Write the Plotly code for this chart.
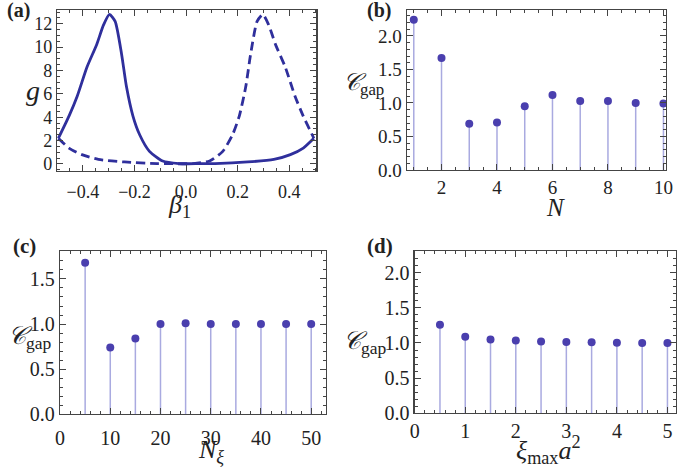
import plotly.graph_objects as go

# ---------------- data ----------------
# (a) g vs beta1
beta_solid = [-0.495, -0.453, -0.422, -0.384, -0.346, -0.32, -0.297, -0.275, -0.25, -0.231,
              -0.206, -0.18, -0.142, -0.091, -0.028, 0.05, 0.112, 0.239, 0.34, 0.404, 0.454, 0.495]
g_solid = [2.2, 4.14, 5.8, 8.3, 10.25, 11.9, 12.8, 12.2, 9.4, 6.6,
           4.1, 2.5, 1.08, 0.25, 0.03, 0.02, 0.03, 0.17, 0.39, 0.8, 1.36, 2.2]
beta_dash = [-0.495, -0.454, -0.404, -0.34, -0.239, -0.112, -0.05, 0.028, 0.091, 0.142,
             0.18, 0.206, 0.231, 0.25, 0.275, 0.297, 0.32, 0.346, 0.384, 0.422, 0.453, 0.495]
g_dash = [2.2, 1.36, 0.8, 0.39, 0.17, 0.03, 0.02, 0.03, 0.25, 1.08,
          2.5, 4.1, 6.6, 9.4, 12.2, 12.8, 11.9, 10.25, 8.3, 5.8, 4.14, 2.2]

# (b) C_gap vs N
N_vals = [1, 2, 3, 4, 5, 6, 7, 8, 9, 10]
C_N = [2.24, 1.67, 0.69, 0.71, 0.95, 1.12, 1.03, 1.03, 1.0, 0.99]

# (c) C_gap vs N_xi
Nxi_vals = [5, 10, 15, 20, 25, 30, 35, 40, 45, 50]
C_Nxi = [1.68, 0.74, 0.84, 1.0, 1.01, 1.0, 1.0, 1.0, 1.0, 1.0]

# (d) C_gap vs xi_max a^2
xi_vals = [0.5, 1.0, 1.5, 2.0, 2.5, 3.0, 3.5, 4.0, 4.5, 5.0]
C_xi = [1.26, 1.09, 1.05, 1.035, 1.02, 1.015, 1.01, 1.005, 1.0, 1.0]

LINE = "#2f2f9c"
DOT = "#4a3fae"
STEM = "#a9aae0"
FONT = "Liberation Serif"

fig = go.Figure()

fig.add_trace(go.Scatter(x=beta_solid, y=g_solid, mode="lines", line=dict(color=LINE, width=2.8, shape="spline", smoothing=0.6),
                         xaxis="x", yaxis="y", showlegend=False))
fig.add_trace(go.Scatter(x=beta_dash, y=g_dash, mode="lines", line=dict(color=LINE, width=2.8, dash="9px,5px", shape="spline", smoothing=0.6),
                         xaxis="x", yaxis="y", showlegend=False))


def stems(xs, ys, xa, ya):
    sx, sy = [], []
    for xv, yv in zip(xs, ys):
        sx += [xv, xv, None]
        sy += [0, yv, None]
    fig.add_trace(go.Scatter(x=sx, y=sy, mode="lines", line=dict(color=STEM, width=1.5),
                             xaxis=xa, yaxis=ya, showlegend=False))
    fig.add_trace(go.Scatter(x=xs, y=ys, mode="markers", marker=dict(color=DOT, size=8),
                             xaxis=xa, yaxis=ya, showlegend=False))


stems(N_vals, C_N, "x2", "y2")
stems(Nxi_vals, C_Nxi, "x3", "y3")
stems(xi_vals, C_xi, "x4", "y4")

W, H = 685, 474


def dom(x0, x1, y0, y1):
    return [x0 / W, x1 / W], [1 - y1 / H, 1 - y0 / H]


def ax(domain, rng, dtick, mdtick, tick0=0, fmt=None, anchor=None, fs=18, standoff=None):
    d = dict(domain=domain, range=rng, dtick=dtick, tick0=tick0, ticks="inside", ticklen=6,
             tickcolor="#444", tickwidth=1, showline=True, linecolor="#444", linewidth=1.2,
             mirror="allticks", showgrid=False, zeroline=False, anchor=anchor,
             tickfont=dict(family=FONT, size=fs, color="#222"),
             minor=dict(ticks="inside", ticklen=3, dtick=mdtick, tick0=tick0, tickcolor="#444", showgrid=False))
    if fmt:
        d["tickformat"] = fmt
    if standoff is not None:
        d["ticklabelstandoff"] = standoff
    return d


xa, ya = dom(53, 317, 10, 175)
xb, yb = dom(409, 673, 10, 174)
xc, yc = dom(56, 327, 257, 424)
xd, yd = dom(417, 683, 257, 423)

fig.update_layout(
    width=W, height=H, margin=dict(l=0, r=0, t=0, b=0),
    paper_bgcolor="white", plot_bgcolor="white",
    font=dict(family=FONT),
    hovermode=False,
    xaxis=ax(xa, [-0.5, 0.505], 0.2, 0.05, tick0=-0.4, fmt=".1f", anchor="y", fs=18, standoff=4),
    yaxis=ax(ya, [-0.6, 13.2], 2, 0.5, anchor="x", fs=18),
    xaxis2=ax(xb, [0.75, 10.1], 2, 0.5, anchor="y2", fs=19),
    yaxis2=ax(yb, [0, 2.39], 0.5, 0.1, fmt=".1f", anchor="x2", fs=19),
    xaxis3=ax(xc, [0, 53], 10, 2, anchor="y3", fs=20, standoff=6),
    yaxis3=ax(yc, [0, 1.81], 0.5, 0.1, fmt=".1f", anchor="x3", fs=20),
    xaxis4=ax(xd, [0, 5.17], 1, 0.2, anchor="y4", fs=20),
    yaxis4=ax(yd, [0, 2.31], 0.5, 0.1, fmt=".1f", anchor="x4", fs=20),
)

ann = []


def text(x, y, s, size=20, xanchor="center", yanchor="middle"):
    ann.append(dict(x=x / W, y=1 - y / H, xref="paper", yref="paper", text=s, showarrow=False,
                    xanchor=xanchor, yanchor=yanchor, font=dict(family=FONT, size=size, color="#222")))


# panel labels
text(0, 11, "<b>(a)</b>", 20, "left")
text(366, 11, "<b>(b)</b>", 20, "left")
text(6, 252, "<b>(c)</b>", 21, "left")
text(366, 252, "<b>(d)</b>", 21, "left")

# axis titles
text(28, 93, "<i>g</i>", 28)
text(178, 211, "<i>β</i><sub>1</sub>", 26)
text(365, 86, "<i>𝒞</i><sub>gap</sub>", 24)
text(560, 212, "<i>N</i>", 25)
text(25, 346, "<i>𝒞</i><sub>gap</sub>", 25)
text(210, 462, "<i>N</i><sub><i>ξ</i></sub>", 26)
text(366, 351, "<i>𝒞</i><sub>gap</sub>", 25)
text(553, 461, "<i>ξ</i><sub>max</sub><i>a</i><sup>2</sup>", 26)

fig.update_layout(annotations=ann)

fig.write_html("out.html", config={"displayModeBar": False, "staticPlot": True},
               post_script="document.body.style.margin='0';")
